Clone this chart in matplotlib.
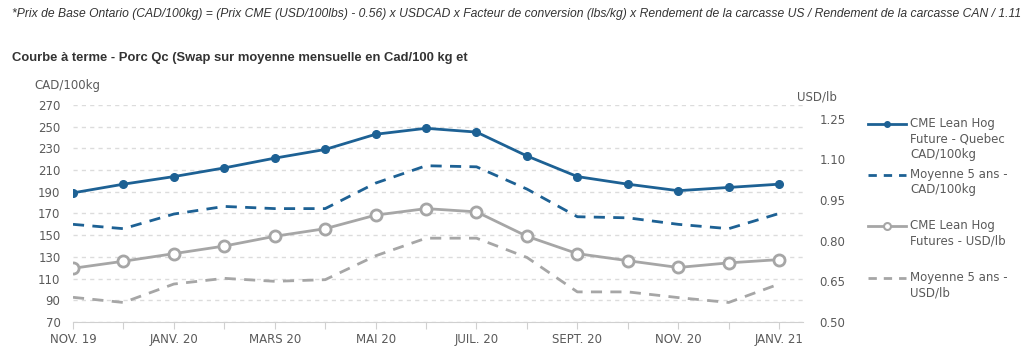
import matplotlib
matplotlib.use('Agg')
import matplotlib.pyplot as plt
from matplotlib.lines import Line2D
from matplotlib import font_manager

# Données (nov. 2019 -> janv. 2021)
mois = ['NOV. 19', 'DÉC. 19', 'JANV. 20', 'FÉVR. 20', 'MARS 20', 'AVR. 20', 'MAI 20',
        'JUIN 20', 'JUIL. 20', 'AOÛT 20', 'SEPT. 20', 'OCT. 20', 'NOV. 20', 'DÉC. 20', 'JANV. 21']
cme_qc_cad = [189, 197, 204, 212, 221, 229, 243, 248.5, 245, 223, 204, 197, 191, 194, 197]
moy5_cad = [160, 156, 169.5, 176.5, 174.5, 174.5, 198, 214, 213, 192.5, 167, 166, 160, 156, 170]
cme_usd = [0.698, 0.724, 0.752, 0.780, 0.816, 0.844, 0.894, 0.918, 0.906, 0.816, 0.752, 0.726, 0.701, 0.718, 0.730]
moy5_usd = [0.591, 0.572, 0.640, 0.661, 0.650, 0.656, 0.744, 0.809, 0.809, 0.738, 0.611, 0.611, 0.590, 0.572, 0.640]

gauche_ticks = [70, 90, 110, 130, 150, 170, 190, 210, 230, 250, 270]
droite_ticks = [0.50, 0.65, 0.80, 0.95, 1.10, 1.25]

bleu = '#1d6194'
gris = '#a6a6a6'
texte = '#5a5a5a'

# police étroite pour la note du haut si dispo
noms = {f.name for f in font_manager.fontManager.ttflist}
etroite = 'Liberation Sans Narrow' if 'Liberation Sans Narrow' in noms else 'Liberation Sans'
taille_note = 10 if etroite == 'Liberation Sans Narrow' else 8.7

fig = plt.figure(figsize=(10.24, 3.57), dpi=100)
ax = fig.add_axes([0.0713, 0.098, 0.7127, 0.608])
ax2 = ax.twinx()

x = list(range(len(mois)))
ax.plot(x, cme_qc_cad, color=bleu, lw=2, marker='o', ms=5.5, zorder=4)
ax.plot(x, moy5_cad, color=bleu, lw=2, ls=(0, (4, 3)), zorder=3)
ax2.plot(x, cme_usd, color=gris, lw=2, marker='o', ms=8, mfc='white', mec=gris, mew=2, zorder=4)
ax2.plot(x, moy5_usd, color=gris, lw=2, ls=(0, (4, 3)), zorder=3)

ax.set_xlim(0, 14.47)
ax.set_ylim(70, 270)
ax2.set_ylim(0.50, 1.30)
ax.set_yticks(gauche_ticks)
ax2.set_yticks(droite_ticks)
ax2.set_yticklabels(['%.2f' % v for v in droite_ticks])
ax.set_xticks(x)
ax.set_xticklabels([m if i % 2 == 0 else '' for i, m in enumerate(mois)])

for a in (ax, ax2):
    for s in ['top', 'left', 'right', 'bottom']:
        a.spines[s].set_visible(False)
ax.spines['bottom'].set_visible(True)
ax.spines['bottom'].set_color('#d0d0d0')

ax.yaxis.grid(True, color='#dcdcdc', ls=(0, (3, 3)), lw=1)
ax.set_axisbelow(True)
ax.tick_params(axis='y', length=0, labelsize=8.5, labelcolor=texte, pad=9)
ax2.tick_params(axis='y', length=0, labelsize=8.5, labelcolor=texte, pad=12)
ax.tick_params(axis='x', length=5, color='#d0d0d0', labelsize=8.5, labelcolor=texte, pad=3)

fig.text(0.034, 0.76, 'CAD/100kg', fontsize=8.5, color=texte, va='center')
fig.text(0.778, 0.728, 'USD/lb', fontsize=8.5, color=texte, va='center')

# en-têtes
fig.text(0.012, 0.962, '*Prix de Base Ontario (CAD/100kg) = (Prix CME (USD/100lbs) - 0.56) x USDCAD x '
         'Facteur de conversion (lbs/kg) x Rendement de la carcasse US / Rendement de la carcasse CAN / 1.11',
         fontsize=taille_note, style='italic', family=etroite, color='#333333', va='center')
fig.text(0.012, 0.838, 'Courbe à terme - Porc Qc (Swap sur moyenne mensuelle en Cad/100 kg et',
         fontsize=9.4, weight='bold', family='Liberation Sans', color='#333333', va='center')

# légende dessinée à la main
legende = [
    (124, dict(color=bleu, lw=2, marker='o', ms=4), 'CME Lean Hog\nFuture - Quebec\nCAD/100kg'),
    (175, dict(color=bleu, lw=2, ls=(0, (3, 2.5))), 'Moyenne 5 ans -\nCAD/100kg'),
    (226, dict(color=gris, lw=2, marker='o', ms=5, mfc='white', mec=gris, mew=1.5), 'CME Lean Hog\nFutures - USD/lb'),
    (278, dict(color=gris, lw=2, ls=(0, (3, 2.5))), 'Moyenne 5 ans -\nUSD/lb'),
]
H = 357.0
for ypix, style, lab in legende:
    yf = 1 - ypix / H
    x0, x1 = 868 / 1024.0, 906 / 1024.0
    fig.add_artist(Line2D([x0, x1], [yf, yf], transform=fig.transFigure, markevery=[], **style))
    if 'marker' in style:
        fig.add_artist(Line2D([(x0 + x1) / 2], [yf], transform=fig.transFigure,
                              **{k: v for k, v in style.items() if k != 'lw'}, lw=0))
    fig.text(910 / 1024.0, yf + 7 / H, lab, fontsize=8.5, color=texte, va='top', linespacing=1.25)

fig.savefig('out.png', dpi=100)
